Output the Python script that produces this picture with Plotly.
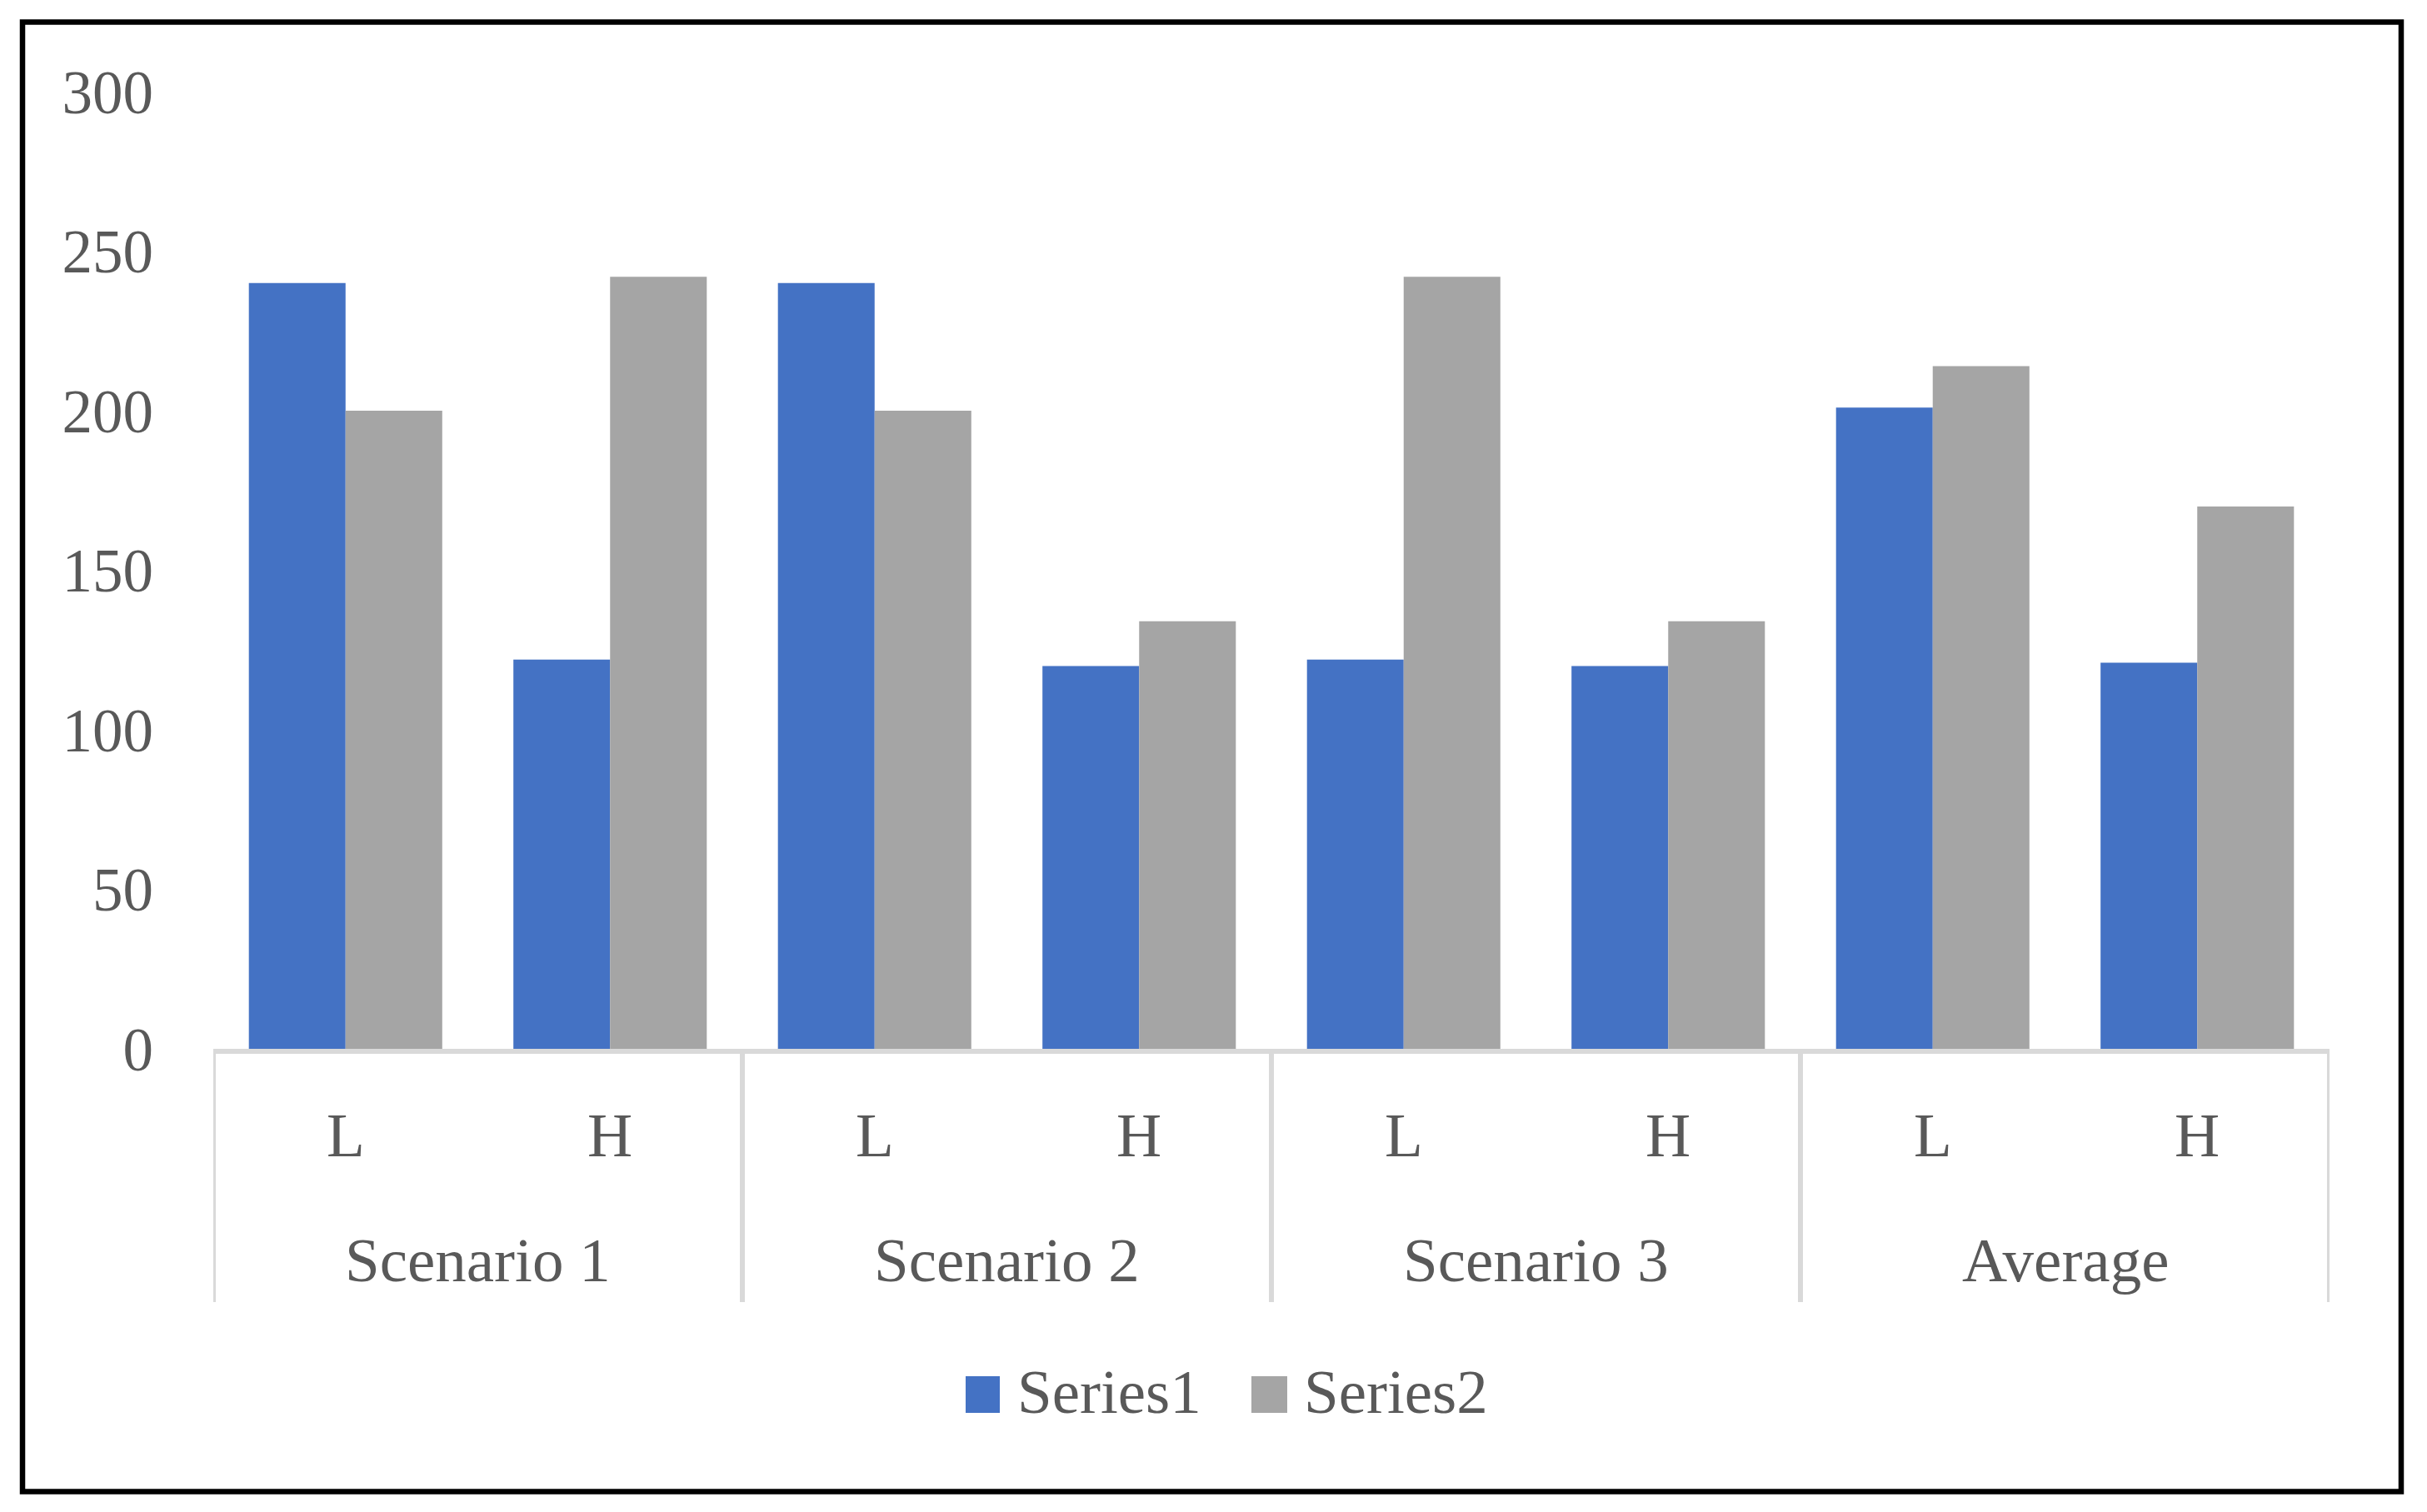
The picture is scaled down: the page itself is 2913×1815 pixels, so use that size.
import plotly.graph_objects as go

groups = ["Scenario 1", "Scenario 1", "Scenario 2", "Scenario 2",
          "Scenario 3", "Scenario 3", "Average", "Average"]
levels = ["L", "H", "L", "H", "L", "H", "L", "H"]
group_names = ["Scenario 1", "Scenario 2", "Scenario 3", "Average"]
series1 = [240, 122, 240, 120, 122, 120, 201, 121]
series2 = [200, 242, 200, 134, 242, 134, 214, 170]
y_ticks = [0, 50, 100, 150, 200, 250, 300]

# page body has an 8px margin; screen coords -> figure coords
OFF = 8
W, H = 2913 - 2 * OFF, 1815 - 2 * OFF
PLOT_L, PLOT_R, PLOT_T, PLOT_B = 256 - OFF, 2796 - OFF, 110 - OFF, 1259 - OFF
L_M, R_M, T_M, B_M = PLOT_L, W - PLOT_R, PLOT_T, H - PLOT_B
PW = PLOT_R - PLOT_L
PH = PLOT_B - PLOT_T

def px(x):
    return (x - OFF - PLOT_L) / PW

def py(y):
    return (PLOT_B - (y - OFF)) / PH

FONT = "Liberation Serif"
TXT = "#595959"
BLUE = "#4472C4"
GRAY = "#A5A5A5"
AXC = "#D9D9D9"
FS = 75

fig = go.Figure()
fig.add_trace(go.Bar(x=[groups, levels], y=series1, name="Series1",
                     marker=dict(color=BLUE, line=dict(width=0))))
fig.add_trace(go.Bar(x=[groups, levels], y=series2, name="Series2",
                     marker=dict(color=GRAY, line=dict(width=0))))

n_cat = len(levels)
group_size = 2
n_groups = len(group_names)

shapes = [
    dict(type="rect", xref="paper", yref="paper",
         x0=px(27), x1=px(2882), y0=py(26.5), y1=py(1790.5),
         line=dict(color="black", width=6.5), fillcolor="rgba(0,0,0,0)", layer="below"),
    dict(type="rect", xref="paper", yref="paper",
         x0=px(1159), x1=px(1200), y0=py(1652), y1=py(1696),
         line=dict(width=0), fillcolor=BLUE),
    dict(type="rect", xref="paper", yref="paper",
         x0=px(1502), x1=px(1545), y0=py(1652), y1=py(1696),
         line=dict(width=0), fillcolor=GRAY),
]
# group dividers at category boundaries
for g in range(n_groups + 1):
    b = g * group_size - 0.5
    shapes.append(dict(type="line", xref="x", yref="paper", x0=b, x1=b,
                       y0=0, y1=py(1563), line=dict(color=AXC, width=6)))

annotations = [
    dict(xref="paper", yref="paper", x=px(1219), y=py(1671), text="Series1",
         showarrow=False, xanchor="left", yanchor="middle",
         font=dict(family=FONT, size=FS, color=TXT)),
    dict(xref="paper", yref="paper", x=px(1563), y=py(1671), text="Series2",
         showarrow=False, xanchor="left", yanchor="middle",
         font=dict(family=FONT, size=FS, color=TXT)),
]
for i, lab in enumerate(levels):
    annotations.append(dict(xref="x", yref="paper", x=i, y=py(1362), text=lab,
                            showarrow=False, xanchor="center", yanchor="middle",
                            font=dict(family=FONT, size=FS, color=TXT)))
for g, name in enumerate(group_names):
    annotations.append(dict(xref="x", yref="paper", x=g * group_size + 0.5,
                            y=py(1512), text=name,
                            showarrow=False, xanchor="center", yanchor="middle",
                            font=dict(family=FONT, size=FS, color=TXT)))

fig.update_layout(
    width=W, height=H,
    margin=dict(l=L_M, r=R_M, t=T_M, b=B_M, pad=0),
    paper_bgcolor="white", plot_bgcolor="white",
    barmode="group", bargap=0.269, bargroupgap=0,
    showlegend=False,
    font=dict(family=FONT, size=FS, color=TXT),
    shapes=shapes, annotations=annotations,
)
fig.update_xaxes(
    type="multicategory",
    showline=True, linecolor=AXC, linewidth=6,
    showgrid=False, ticks="", showticklabels=False, showdividers=False,
    range=[-0.5, n_cat - 0.5],
)
fig.update_yaxes(
    range=[0, 300], tickvals=y_ticks, showgrid=False, showline=False,
    zeroline=False, ticks="", ticklabelstandoff=71,
    tickfont=dict(family=FONT, size=73, color=TXT),
)

fig.write_html("out.html")
